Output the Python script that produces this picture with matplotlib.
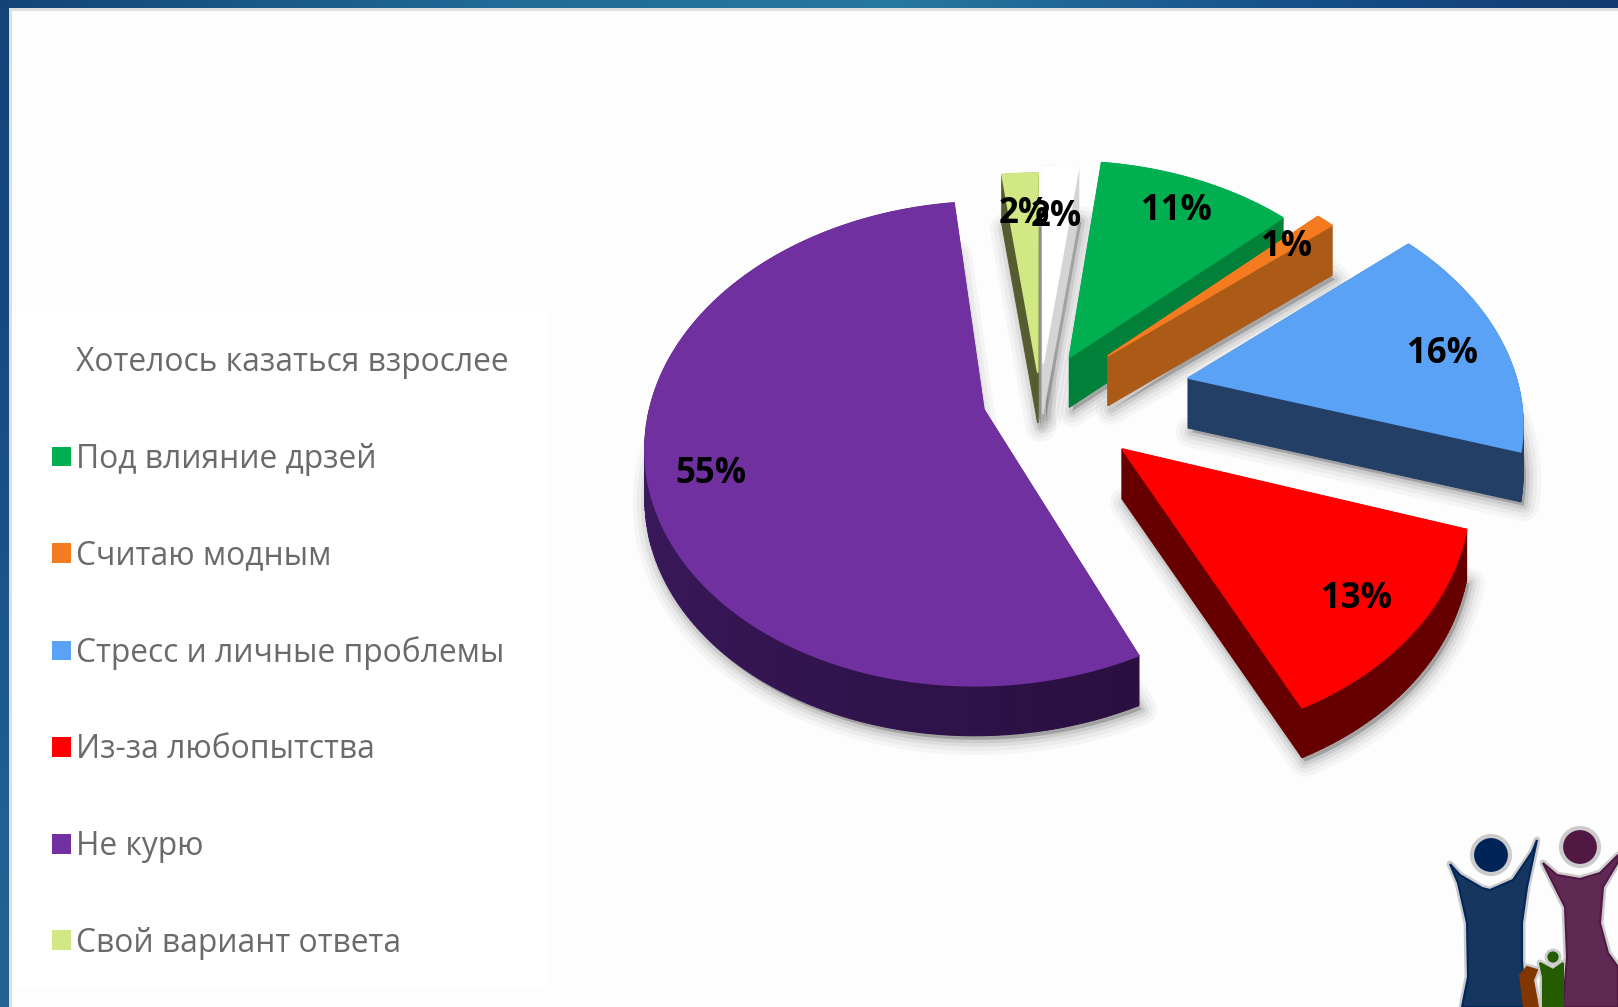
import numpy as np
import matplotlib
matplotlib.use("Agg")
import matplotlib.pyplot as plt
from matplotlib.patches import Polygon, Rectangle, Circle, Patch
from matplotlib.colors import to_rgb

# ---- data
labels = ["Хотелось казаться взрослее", "Под влияние дрзей", "Считаю модным",
          "Стресс и личные проблемы", "Из-за любопытства", "Не курю", "Свой вариант ответа"]
values = [2, 11, 1, 16, 13, 55, 2]
top_colors = ["#ffffff", "#00b050", "#f47b20", "#5aa2f6", "#ff0000", "#7030a0", "#d2e884"]
side_colors = ["#d4d4d4", "#008038", "#ab5a18", "#233f66", "#660000", "#3a1a5c", "#565c30"]
explode = [0.15, 0.20, 0.28, 0.46, 0.32, 0.175, 0.11]
label_r = [0.72, 0.77, 0.77, 0.82, 0.85, 0.80, 0.76]
label_shift = [(0, 0), (6, -7), (8, -3), (-1, 10), (-10, -2), (-6, 10), (0, -3)]

# ---- projection of the pie plane to the pixel frame
CX, CY, R, A, K, DEPTH = 1040, 398, 332, 0.705, 0.14, 50

def project(X, Y):
    s = 1 / (1 + K * Y)
    return CX + R * X * s, CY - R * A * Y * s

fig = plt.figure(figsize=(16.18, 10.07), dpi=100, facecolor="#fdfdfd")
ax = fig.add_axes([0, 0, 1, 1])
ax.set_xlim(0, 1618)
ax.set_ylim(1007, 0)
ax.axis("off")

# ---- frame
top = np.array([0.0, 0.3, 0.55, 0.8, 1.0])
def band(extent, horizontal, stops):
    n = 256
    t = np.linspace(0, 1, n)
    rgb = np.stack([np.interp(t, top, [to_rgb(c)[i] for c in stops]) for i in range(3)], axis=-1)
    img = rgb[None, :, :] if horizontal else rgb[:, None, :]
    ax.imshow(img, extent=extent, aspect="auto", zorder=1, interpolation="bilinear")
band((0, 1618, 8, 0), True, ["#134478", "#1f6a96", "#26799f", "#16508a", "#123c70"])
band((0, 9, 1007, 0), False, ["#134478", "#16497f", "#1a5388", "#205f90", "#236592"])
ax.set_xlim(0, 1618)
ax.set_ylim(1007, 0)
ax.add_patch(Rectangle((9, 8), 1609, 3, fc="#dedede", ec="none", zorder=2))
ax.add_patch(Rectangle((9, 8), 3, 999, fc="#dedede", ec="none", zorder=2))
ax.add_patch(Rectangle((12, 311), 537, 676, fc="#ffffff", ec="none", zorder=2))

# ---- exploded 3-D pie
edges = np.cumsum([0] + values) / sum(values) * 2 * np.pi
draw_order = [6, 0, 1, 2, 3, 4, 5]
for i in draw_order:
    a0, a1 = edges[i], edges[i + 1]
    mid = (a0 + a1) / 2
    ex, ey = explode[i] * np.sin(mid), explode[i] * np.cos(mid)
    th = np.linspace(a0, a1, max(6, int(values[i] * 4)))
    PX = np.r_[ex, ex + np.sin(th)]
    PY = np.r_[ey, ey + np.cos(th)]
    x, y = project(PX, PY)
    yb = y + DEPTH
    top_poly = np.c_[x, y]
    bot_poly = np.c_[x, yb]
    # soft shadow
    for lw, al in [(22, .03), (16, .04), (10, .06), (5, .08)]:
        ax.add_patch(Polygon(bot_poly + [3, 4], closed=True, fc=(0, 0, 0, al), ec=(0, 0, 0, al),
                             lw=lw, joinstyle="round", zorder=3 + draw_order.index(i) * 0.01))
    z = 5 + draw_order.index(i)
    n = len(x)
    for j in range(n):
        k = (j + 1) % n
        col = side_colors[i]
        if i == 5 and 0 < j < n - 1:   # shaded rim of the big slice
            f = j / (n - 1)
            col = np.array(to_rgb("#2a0f40")) * (1 - f) + np.array(to_rgb("#4a2278")) * f
        ax.add_patch(Polygon([(x[j], y[j]), (x[k], y[k]), (x[k], yb[k]), (x[j], yb[j])],
                             closed=True, fc=col, ec=col, lw=0.8, zorder=z))
    ax.add_patch(Polygon(top_poly, closed=True, fc=top_colors[i], ec=top_colors[i], lw=1.2, zorder=z + 0.5))

for i in range(len(values)):
    mid = (edges[i] + edges[i + 1]) / 2
    r = explode[i] + label_r[i]
    lx, ly = project(r * np.sin(mid), r * np.cos(mid))
    ax.text(lx + label_shift[i][0], ly + label_shift[i][1], f"{values[i]}%", ha="center", va="center",
            fontsize=25, fontweight="bold", family="Open Sans", color="black", zorder=30)

# ---- legend
handles = [Patch(fc=c, ec="none") for c in top_colors]
ax.legend(handles, labels, loc="upper left", bbox_to_anchor=(0.0322, 0.6563), frameon=False,
          prop={"family": "Open Sans", "size": 22.9}, labelcolor="#6a6a6a",
          labelspacing=2.0, handlelength=0.585, handleheight=0.585, handletextpad=0.16,
          borderpad=0, borderaxespad=0)

# ---- logo
navy = [(1450, 864), (1460, 875), (1482, 888), (1490, 890), (1513, 880), (1532, 852), (1537, 840),
        (1527, 887), (1522, 923), (1522, 960), (1525, 1007), (1462, 1007), (1468, 977), (1467, 923), (1458, 883)]
plum = [(1543, 863), (1557, 875), (1580, 879), (1600, 873), (1618, 855), (1618, 862), (1603, 887),
        (1600, 923), (1608, 953), (1618, 967), (1618, 1007), (1563, 1007), (1567, 957), (1565, 907)]
green = [(1540, 963), (1553, 970), (1563, 963), (1563, 1007), (1543, 1007), (1543, 977)]
rust = [(1520, 975), (1527, 967), (1537, 970), (1533, 980), (1538, 1007), (1524, 1007)]
for poly, fc, ec in [(navy, "#16365f", "#00265c"), (plum, "#5e2a53", "#521844"),
                     (rust, "#823600", "#823600"), (green, "#265c00", "#265c00")]:
    ax.add_patch(Polygon(poly, closed=True, fc="none", ec="#cccccc", lw=5, joinstyle="round", zorder=40))
    ax.add_patch(Polygon(poly, closed=True, fc=fc, ec=ec, lw=1.5, zorder=41))
for cx, cy, r, lw, fc in [(1491, 855, 19, 3, "#002357"), (1580, 847, 19, 3, "#521844"), (1553, 957, 7, 2, "#265c00")]:
    ax.add_patch(Circle((cx, cy), r, fc=fc, ec="#cccccc", lw=lw, zorder=42))

fig.savefig("out.png", dpi=100, facecolor=fig.get_facecolor())
